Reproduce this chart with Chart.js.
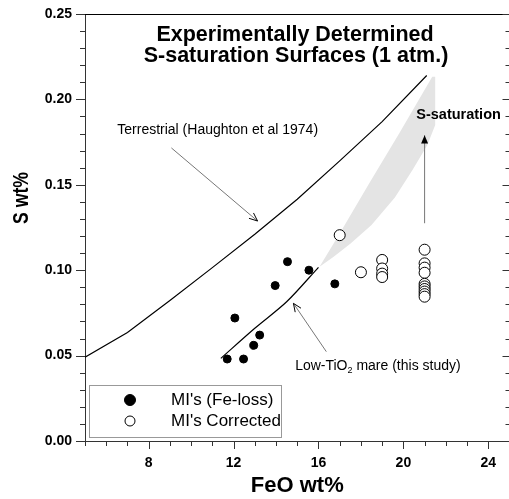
<!DOCTYPE html>
<html>
<head>
<meta charset="utf-8">
<script src="https://cdn.jsdelivr.net/npm/chart.js"></script>
<style>
  html, body { margin: 0; padding: 0; background: #fff; overflow: hidden; }
  #wrap { position: relative; width: 516px; height: 499px; }
</style>
</head>
<body>
<div id="wrap"><canvas id="chart"></canvas></div>
<script>
// values (FeO wt%, S wt%)
const feLossFeO = [11.7, 12.47, 12.06, 12.95, 13.23, 13.96, 14.54, 15.55, 16.77];
const feLossS   = [0.048, 0.048, 0.072, 0.056, 0.062, 0.091, 0.105, 0.100, 0.092];

const correctedFeO = [17.0, 18.0, 19, 19, 19, 19, 21, 21, 21, 21, 21, 21, 21, 21, 21, 21];
const correctedS   = [0.1205, 0.0988, 0.106, 0.101, 0.098, 0.096, 0.112, 0.104, 0.1015, 0.0985, 0.092, 0.0905, 0.089, 0.0875, 0.086, 0.0845];

const terrestrialFeO = [5, 7, 9, 11, 13, 15, 17, 19, 21.1];
const terrestrialS   = [0.049, 0.0635, 0.0822, 0.1015, 0.121, 0.1415, 0.164, 0.187, 0.214];

const lowTiFeO = [11.4, 13.0, 14.5, 16.0];
const lowTiS   = [0.0484, 0.066, 0.0815, 0.1017];

// grey S-saturation band, outline going up the left edge and back down the right edge
const bandFeO = [16.05, 17.0, 18.4, 19.8, 21.36, 21.5, 21.5, 21.13, 20.43, 19.6, 18.5, 17.5, 16.7, 16.05];
const bandS   = [0.102, 0.1215, 0.151, 0.18, 0.2133, 0.2133, 0.185, 0.1733, 0.1587, 0.1425, 0.1265, 0.1155, 0.1078, 0.102];

const xTickLabels = [8, 12, 16, 20, 24];
const yTickLabels = [0, 0.05, 0.10, 0.15, 0.20, 0.25];

const titleLines = ['Experimentally Determined', 'S-saturation Surfaces (1 atm.)'];

const FONT = "'Liberation Sans', Arial, Helvetica, sans-serif";

function toPoints(xs, ys) {
    return xs.map((v, i) => ({ x: v, y: ys[i] }));
}

// arrow helper: head 'open' (two strokes) or 'filled' (triangle)
function drawArrow(ctx, x1, y1, x2, y2, head, lineColor) {
    const ang = Math.atan2(y2 - y1, x2 - x1);
    ctx.strokeStyle = lineColor;
    ctx.lineWidth = 1;
    ctx.beginPath();
    ctx.moveTo(x1, y1);
    ctx.lineTo(x2, y2);
    ctx.stroke();
    const len = 9, spread = 0.4;
    const ax = x2 - len * Math.cos(ang - spread), ay = y2 - len * Math.sin(ang - spread);
    const bx = x2 - len * Math.cos(ang + spread), by = y2 - len * Math.sin(ang + spread);
    ctx.strokeStyle = '#000';
    ctx.fillStyle = '#000';
    ctx.beginPath();
    if (head === 'filled') {
        ctx.moveTo(x2, y2);
        ctx.lineTo(ax, ay);
        ctx.lineTo(bx, by);
        ctx.closePath();
        ctx.fill();
    } else {
        ctx.moveTo(ax, ay);
        ctx.lineTo(x2, y2);
        ctx.lineTo(bx, by);
        ctx.stroke();
    }
}

// frame on top/right plus major & minor tick marks
const frameTicks = {
    id: 'frameTicks',
    afterDraw(chart) {
        const { ctx, chartArea: a, scales: { x, y } } = chart;
        ctx.save();
        ctx.strokeStyle = '#000';
        ctx.lineWidth = 1;
        ctx.beginPath();
        ctx.moveTo(a.left, Math.round(a.top) + 0.5);
        ctx.lineTo(a.right, Math.round(a.top) + 0.5);
        ctx.moveTo(Math.round(a.right) - 0.5, a.top);
        ctx.lineTo(Math.round(a.right) - 0.5, a.bottom);
        ctx.stroke();

        ctx.strokeStyle = '#333';
        ctx.beginPath();
        for (let v = x.min; v <= x.max; v++) {
            const px = Math.round(x.getPixelForValue(v)) + 0.5;
            const len = xTickLabels.includes(v) ? 8 : 5;
            ctx.moveTo(px, a.bottom);
            ctx.lineTo(px, a.bottom + len);
        }
        for (let i = 0; i <= 25; i++) {
            const py = Math.round(y.getPixelForValue(i / 100)) + 0.5;
            const major = i % 5 === 0;
            ctx.moveTo(a.left, py);
            ctx.lineTo(a.left - (major ? 9 : 5), py);
            ctx.moveTo(a.right, py);
            ctx.lineTo(a.right - (major ? 7 : 4), py);
        }
        ctx.stroke();
        ctx.restore();
    }
};

// title, y-axis title, text notes and arrows, legend box
const notes = {
    id: 'notes',
    afterDraw(chart) {
        const { ctx, chartArea: a, scales: { x, y } } = chart;
        const X = v => x.getPixelForValue(v);
        const Y = v => y.getPixelForValue(v);
        ctx.save();
        ctx.fillStyle = '#000';

        // title inside the plot
        ctx.font = 'bold 21.5px ' + FONT;
        ctx.textAlign = 'center';
        ctx.textBaseline = 'alphabetic';
        ctx.fillText(titleLines[0], 295, 41);
        ctx.fillText(titleLines[1], 296, 62);

        // y-axis title
        ctx.save();
        ctx.translate(28, 198);
        ctx.rotate(-Math.PI / 2);
        ctx.scale(0.8, 1);
        ctx.font = 'bold 22px ' + FONT;
        ctx.textAlign = 'center';
        ctx.fillText('S wt%', 0, 0);
        ctx.restore();

        // terrestrial note
        ctx.font = '14px ' + FONT;
        ctx.textAlign = 'center';
        ctx.textBaseline = 'middle';
        ctx.fillText('Terrestrial (Haughton et al 1974)', X(11.25), Y(0.182));
        drawArrow(ctx, X(9.07), Y(0.1716), X(13.13), Y(0.1288), 'open', '#777');

        // S-saturation note
        ctx.font = 'bold 14.5px ' + FONT;
        ctx.fillText('S-saturation', X(22.6), Y(0.1909));
        drawArrow(ctx, X(21), Y(0.1275), X(21), Y(0.179), 'filled', '#777');

        // low-TiO2 note with subscript
        const lx = X(14.9), ly = Y(0.0439);
        ctx.font = '14px ' + FONT;
        ctx.textAlign = 'left';
        const p1 = 'Low-TiO', p3 = ' mare (this study)';
        const w1 = ctx.measureText(p1).width;
        ctx.fillText(p1, lx, ly);
        ctx.font = '9px ' + FONT;
        const w2 = ctx.measureText('2').width;
        ctx.fillText('2', lx + w1, ly + 4);
        ctx.font = '14px ' + FONT;
        ctx.fillText(p3, lx + w1 + w2, ly);
        drawArrow(ctx, X(16.37), Y(0.0523), X(14.82), Y(0.0806), 'open', '#777');

        // legend box in lower left corner
        const bx = a.left + 4, by = a.bottom - 56, bw = 192, bh = 52;
        ctx.fillStyle = '#fff';
        ctx.fillRect(bx, by, bw, bh);
        ctx.strokeStyle = '#999';
        ctx.lineWidth = 1;
        ctx.strokeRect(bx + 0.5, by + 0.5, bw, bh);
        const items = chart.data.datasets.slice(0, 2);
        ctx.font = '17px ' + FONT;
        ctx.textBaseline = 'middle';
        ctx.textAlign = 'left';
        items.forEach((ds, i) => {
            const cy = by + 15 + i * 21;
            ctx.beginPath();
            ctx.arc(bx + 41, cy, i === 0 ? 5.5 : 5, 0, Math.PI * 2);
            ctx.fillStyle = ds.backgroundColor;
            ctx.fill();
            ctx.strokeStyle = '#000';
            ctx.stroke();
            ctx.fillStyle = '#000';
            ctx.fillText(ds.label, bx + 82, cy);
        });
        ctx.restore();
    }
};

new Chart(document.getElementById('chart'), {
    type: 'scatter',
    data: {
        datasets: [
            {
                label: "MI's (Fe-loss)",
                data: toPoints(feLossFeO, feLossS),
                backgroundColor: '#000',
                borderColor: '#000',
                pointRadius: 4,
                order: 0
            },
            {
                label: "MI's Corrected",
                data: toPoints(correctedFeO, correctedS),
                backgroundColor: '#fff',
                borderColor: '#000',
                borderWidth: 1,
                pointRadius: 5.5,
                order: 1
            },
            {
                label: 'Terrestrial',
                data: toPoints(terrestrialFeO, terrestrialS),
                showLine: true,
                borderColor: '#000',
                borderWidth: 1.2,
                pointRadius: 0,
                order: 3
            },
            {
                label: 'Low-TiO2 mare',
                data: toPoints(lowTiFeO, lowTiS),
                showLine: true,
                tension: 0.3,
                borderColor: '#000',
                borderWidth: 1.2,
                pointRadius: 0,
                order: 3
            },
            {
                label: 'S-saturation band',
                data: toPoints(bandFeO, bandS),
                showLine: true,
                fill: 'shape',
                backgroundColor: '#e4e4e4',
                borderWidth: 0,
                pointRadius: 0,
                order: 10
            }
        ]
    },
    options: {
        responsive: true,
        maintainAspectRatio: false,
        animation: false,
        layout: { padding: { left: 44, top: 14, right: 4, bottom: 0 } },
        plugins: {
            legend: { display: false },
            tooltip: { enabled: false },
            title: { display: false }
        },
        scales: {
            x: {
                type: 'linear',
                min: 5,
                max: 25,
                afterBuildTicks: scale => { scale.ticks = xTickLabels.map(v => ({ value: v })); },
                afterFit: scale => {
                    scale.height = 58;
                    scale.paddingLeft = 0;
                    scale.paddingRight = 0;
                },
                ticks: {
                    padding: 14,
                    color: '#000',
                    font: { family: FONT, size: 14, weight: 'bold' },
                    callback: v => String(v)
                },
                grid: { display: false, drawTicks: false },
                border: { display: true, color: '#333', width: 1 },
                title: {
                    display: true,
                    text: 'FeO wt%',
                    color: '#000',
                    font: { family: FONT, size: 22, weight: 'bold' },
                    padding: { top: 0, bottom: 0 }
                }
            },
            y: {
                type: 'linear',
                min: 0,
                max: 0.25,
                afterBuildTicks: scale => { scale.ticks = yTickLabels.map(v => ({ value: v })); },
                afterFit: scale => {
                    scale.width = 41;
                    scale.paddingTop = 0;
                    scale.paddingBottom = 0;
                },
                ticks: {
                    padding: 13,
                    color: '#000',
                    font: { family: FONT, size: 14, weight: 'bold' },
                    callback: v => v.toFixed(2)
                },
                grid: { display: false, drawTicks: false },
                border: { display: true, color: '#333', width: 1 }
            }
        }
    },
    plugins: [frameTicks, notes]
});
</script>
</body>
</html>
